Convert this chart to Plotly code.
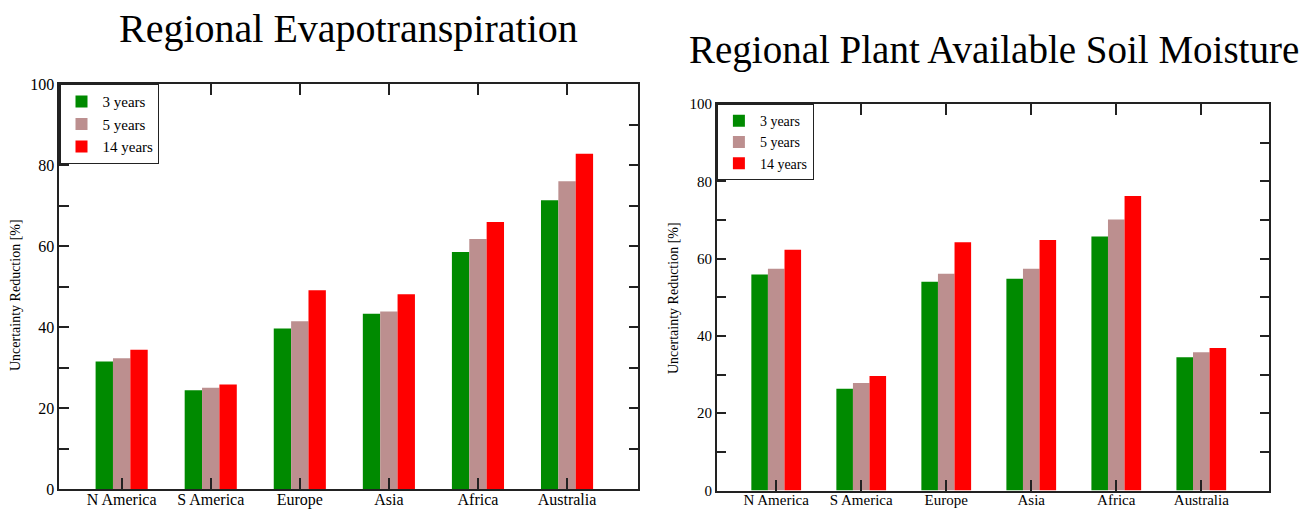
import plotly.graph_objects as go

W, H = 1311, 511

regions = ["N America", "S America", "Europe", "Asia", "Africa", "Australia"]
series_names = ["3 years", "5 years", "14 years"]

et_3y = [31.5, 24.4, 39.6, 43.3, 58.5, 71.3]
et_5y = [32.3, 25.0, 41.4, 43.8, 61.7, 76.0]
et_14y = [34.4, 25.8, 49.1, 48.1, 65.9, 82.8]

sm_3y = [55.9, 26.3, 54.0, 54.8, 65.7, 34.5]
sm_5y = [57.4, 27.8, 56.1, 57.4, 70.1, 35.8]
sm_14y = [62.3, 29.6, 64.2, 64.8, 76.2, 36.9]

colors = ["#008a00", "#bc8f8f", "#ff0000"]
FONT = "Liberation Serif, Times New Roman, serif"
AX = "#222222"

fig = go.Figure()

for name, vals, col in zip(series_names, [et_3y, et_5y, et_14y], colors):
    fig.add_trace(go.Bar(x=regions, y=vals, name=name, marker_color=col,
                         marker_line_width=0, xaxis="x", yaxis="y",
                         legend="legend"))
for name, vals, col in zip(series_names, [sm_3y, sm_5y, sm_14y], colors):
    fig.add_trace(go.Bar(x=regions, y=vals, name=name, marker_color=col,
                         marker_line_width=0, xaxis="x2", yaxis="y2",
                         legend="legend2"))

def px_x(p):
    return p / W

def px_y(p):
    return 1 - p / H

xcommon = dict(type="category", range=[-0.7, 5.8], showline=True, linecolor=AX,
               linewidth=1.5, mirror="ticks", ticks="inside", ticklen=11,
               tickcolor=AX, tickwidth=1.5, showgrid=False, zeroline=False,
               fixedrange=True, automargin=False, ticklabelstandoff=-5)
ycommon = dict(range=[0, 100], dtick=20, showline=True, linecolor=AX,
               linewidth=1.5, mirror="ticks", ticks="inside", ticklen=10,
               tickcolor=AX, tickwidth=1.5, showgrid=False, zeroline=False,
               minor=dict(dtick=10, ticks="inside", ticklen=10, tickcolor=AX,
                          tickwidth=1.5, showgrid=False),
               fixedrange=True, automargin=False)

fig.update_layout(
    width=W, height=H, autosize=False,
    margin=dict(l=0, r=0, t=0, b=0),
    paper_bgcolor="white", plot_bgcolor="white",
    barmode="group", bargap=0.415, bargroupgap=0,
    font=dict(family=FONT, color="black"),
    xaxis=dict(domain=[px_x(59.3), px_x(638.3)], anchor="y",
               tickfont=dict(size=16, family=FONT, color="black"), **xcommon),
    yaxis=dict(domain=[px_y(489), px_y(84)], anchor="x",
               tickfont=dict(size=16, family=FONT, color="black"), **ycommon),
    xaxis2=dict(domain=[px_x(716.7), px_x(1269.3)], anchor="y2",
                tickfont=dict(size=15, family=FONT, color="black"), **xcommon),
    yaxis2=dict(domain=[px_y(490.5), px_y(104)], anchor="x2",
                tickfont=dict(size=15, family=FONT, color="black"), **ycommon),
    legend=dict(x=px_x(59.3), y=px_y(84), xanchor="left", yanchor="top",
                bgcolor="white", bordercolor=AX, borderwidth=1.2,
                font=dict(size=15, family=FONT, color="black"),
                tracegroupgap=0, itemclick=False, itemdoubleclick=False,
                itemwidth=32),
    legend2=dict(x=px_x(716.7), y=px_y(104), xanchor="left", yanchor="top",
                 bgcolor="white", bordercolor=AX, borderwidth=1.2,
                 font=dict(size=14, family=FONT, color="black"),
                 tracegroupgap=0, itemclick=False, itemdoubleclick=False,
                 itemwidth=32),
    showlegend=True,
    annotations=[
        dict(text="Regional Evapotranspiration", xref="paper", yref="paper",
             x=px_x(349), y=px_y(28), xanchor="center", yanchor="middle",
             showarrow=False, font=dict(size=40, family=FONT, color="black")),
        dict(text="Regional Plant Available Soil Moisture", xref="paper",
             yref="paper", x=px_x(994), y=px_y(50), xanchor="center",
             yanchor="middle", showarrow=False,
             font=dict(size=39, family=FONT, color="black")),
        dict(text="Uncertainty Reduction [%]", xref="paper", yref="paper",
             x=px_x(15), y=px_y(295), xanchor="center", yanchor="middle",
             textangle=-90, showarrow=False,
             font=dict(size=14, family=FONT, color="black")),
        dict(text="Uncertainty Reduction [%]", xref="paper", yref="paper",
             x=px_x(673), y=px_y(298), xanchor="center", yanchor="middle",
             textangle=-90, showarrow=False,
             font=dict(size=14, family=FONT, color="black")),
    ],
)

fig.write_html("out.html")
